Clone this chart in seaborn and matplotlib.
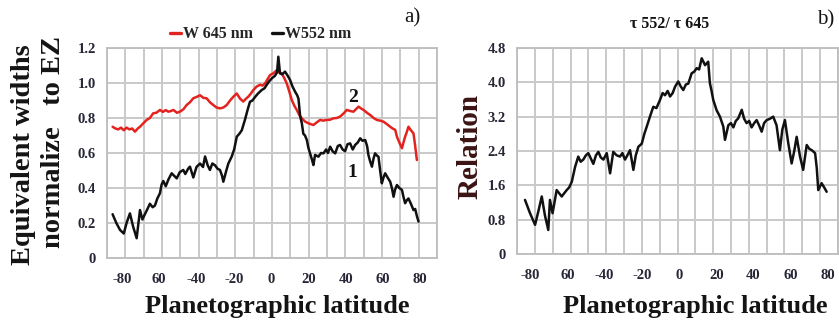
import numpy as np
import pandas as pd
import matplotlib
matplotlib.use("Agg")
import matplotlib.pyplot as plt
import seaborn as sns

# ---------------- data ----------------
lat_552 = [-85, -83, -81, -79, -77.5, -75.7, -74, -72.1, -70.3, -69, -67.7, -66.3, -65, -63.5, -62.3,
           -61, -59.6, -58.7, -57.8, -56.5, -55, -53.3, -52, -50.6, -49, -47.1, -46, -44.5, -43.5,
           -41.7, -40, -38.1, -36.5, -35.4, -34, -32.8, -31.5, -30.1, -28.7, -27.4, -26.3, -25.6,
           -24, -22.9, -21.1, -19.8, -18.4, -17, -15.7, -14, -12.5, -11.3, -10, -8.6, -7, -5, -3.5,
           -2.3, -1, 0.4, 2, 3.2, 3.9, 4.8, 6, 7.5, 9, 10.2, 11.5, 12.9, 14, 14.7, 15.6, 16.5, 17.3,
           18.2, 19.2, 20, 20.9, 22, 22.7, 23.6, 25.4, 26.8, 28.1, 29.5, 30.5, 31.7, 33, 34.4, 35.8,
           37, 38.4, 39.7, 41, 42.4, 43.8, 45.1, 46.5, 47.8, 49, 50.5, 51.5, 52.2, 53.2, 54.1, 55,
           55.8, 56.8, 57.6, 58.5, 59.4, 60.3, 61.2, 62.5, 63.9, 64.8, 65.7, 66.5, 67.5, 68.8, 70.2,
           71, 71.9, 72.8, 73.7, 75, 76.4, 77.3, 78.2, 79.1]
w_552 = [0.25, 0.20, 0.16, 0.14, 0.20, 0.255, 0.18, 0.113, 0.274, 0.22, 0.25, 0.28, 0.31, 0.29, 0.30,
         0.34, 0.37, 0.42, 0.44, 0.41, 0.45, 0.484, 0.47, 0.455, 0.49, 0.503, 0.48, 0.51, 0.522,
         0.46, 0.52, 0.54, 0.52, 0.58, 0.53, 0.503, 0.54, 0.53, 0.51, 0.503, 0.47, 0.436,
         0.50, 0.54, 0.58, 0.62, 0.693, 0.71, 0.73, 0.79, 0.85, 0.893, 0.90, 0.92, 0.94, 0.96, 0.97,
         0.99, 1.01, 1.027, 1.04, 1.06, 1.15, 1.055, 1.05, 1.065, 1.04, 1.017, 0.98, 0.95, 0.93, 0.91,
         0.81, 0.77, 0.71, 0.70, 0.674, 0.63, 0.598, 0.56, 0.531, 0.589, 0.579, 0.60, 0.598, 0.62,
         0.60, 0.636, 0.61, 0.598, 0.64, 0.646, 0.62, 0.61, 0.65, 0.655, 0.62, 0.646, 0.66, 0.684,
         0.67, 0.674, 0.64, 0.589, 0.55, 0.522, 0.57, 0.598, 0.585, 0.579, 0.50, 0.427, 0.46, 0.484,
         0.46, 0.436, 0.40, 0.35, 0.39, 0.417, 0.40, 0.389, 0.35, 0.313, 0.33, 0.34, 0.31, 0.274,
         0.28, 0.24, 0.208]

lat_645 = [-85, -83.5, -82, -80.5, -79, -77.5, -76, -74.5, -73, -71.5, -70.3, -68.5, -66.7, -65, -63.2,
           -61.5, -59.6, -58, -56.5, -55.1, -53.7, -52.4, -50.5, -48.9, -47, -45.3, -43.5, -41.7, -40,
           -38.1, -36.3, -34.6, -32.8, -31, -29.2, -27.4, -25.6, -23.8, -22, -20.2, -18.4, -16.6,
           -14.9, -13.5, -12.2, -10.8, -9.5, -7.7, -5.9, -4.5, -3.2, -2, -0.5, 1.2, 3.1, 4.4, 5.7, 7,
           8.4, 9.8, 11.1, 12.5, 13.8, 15, 16.5, 18.2, 20, 21.3, 22.7, 24.5, 26.3, 28, 29.8, 31.6,
           33.4, 35.2, 37, 38.8, 40.6, 42.4, 44.2, 45.5, 46.9, 48.2, 49.6, 51.4, 53.2, 55, 56.7, 58.5,
           60.3, 62.1, 63.9, 65.2, 66.6, 67.5, 68.8, 70.2, 71, 71.9, 72.8, 73.7, 75, 76.4, 77.3, 78.2]
w_645 = [0.75, 0.74, 0.735, 0.745, 0.73, 0.745, 0.735, 0.74, 0.722, 0.74, 0.75, 0.77, 0.789, 0.80, 0.827,
         0.83, 0.846, 0.835, 0.845, 0.836, 0.84, 0.846, 0.83, 0.836, 0.85, 0.874, 0.89, 0.913, 0.92,
         0.93, 0.915, 0.913, 0.89, 0.874, 0.86, 0.855, 0.86, 0.874, 0.90, 0.922, 0.94, 0.91,
         0.894, 0.91, 0.922, 0.94, 0.96, 0.98, 0.99, 0.985, 0.998, 1.02, 1.046, 1.055, 1.074, 1.06,
         1.055, 1.03, 0.998, 0.95, 0.903, 0.87, 0.846, 0.82, 0.798, 0.78, 0.77, 0.765, 0.76, 0.775,
         0.789, 0.785, 0.789, 0.79, 0.798, 0.80, 0.808, 0.825, 0.846, 0.84, 0.836, 0.85, 0.865,
         0.855, 0.846, 0.83, 0.817, 0.80, 0.789, 0.785, 0.779, 0.765, 0.75, 0.74, 0.732, 0.693,
         0.66, 0.627, 0.66, 0.693, 0.72, 0.75, 0.73, 0.712, 0.64, 0.56]

lat_ratio = [-82.7, -80, -77.3, -75.5, -73.7, -72, -70.2, -69.3, -67.9, -65.7, -63, -60.3, -59, -57.6,
             -55.8, -54.1, -52.8, -51.4, -50, -48.7, -46, -44.6, -43.3, -42, -40.6, -38.8, -37, -35.3,
             -33.5, -31.7, -30.4, -29, -27.7, -26.3, -24.5, -23.2, -21.8, -20, -18.6, -17.3, -15.6,
             -13.8, -12.1, -10.2, -8.8, -7.5, -6.1, -4.8, -3.4, -2.1, -0.4, 1, 2.3, 3.7, 5, 6.8,
             8.2, 9.5, 10.8, 12.2, 14, 15.7, 16.6, 17.5, 18.4, 20.2, 22, 23.8, 24.7, 26.5, 27.9, 29.2,
             30.5, 31.8, 33.7, 35, 36.3, 37.7, 39, 40.4, 41.7, 43, 44.4, 45.7, 47.1, 48.8, 50.6, 52.4,
             54.2, 55.5, 56.9, 58.7, 60.5, 61.9, 63.2, 65, 66.7, 68.6, 70, 71.3, 73.1, 74, 74.8,
             76.6, 78, 79.3]
ratio = [1.26, 0.95, 0.68, 1.0, 1.34, 0.9, 0.56, 1.26, 0.95, 1.49, 1.34, 1.49, 1.55, 1.68,
         2.03, 2.27, 2.15, 2.2, 2.3, 2.35, 2.1, 2.3, 2.38, 2.25, 2.2, 2.35, 1.88, 2.38,
         2.3, 2.27, 2.35, 2.2, 2.3, 2.42, 1.96, 2.3, 2.5, 2.57, 2.8, 2.97, 3.2,
         3.43, 3.4, 3.59, 3.75, 3.7, 3.8, 3.67, 3.75, 3.9, 4.02, 3.9, 3.82, 3.95, 3.97, 4.21,
         4.25, 4.33, 4.3, 4.56, 4.4, 4.48, 3.98, 3.8, 3.59, 3.35, 3.2, 2.97, 2.66, 3.0, 3.05, 2.95,
         3.1, 3.16, 3.36, 3.15, 3.05, 3.1, 2.95, 3.05, 3.12, 3.0, 2.85, 3.05, 3.12, 3.15, 3.2, 3.0,
         2.42, 2.9, 3.12, 2.58, 2.11, 2.4, 2.73, 2.27, 1.96, 2.54, 2.45, 2.42, 2.35, 2.0, 1.49,
         1.65, 1.55, 1.45]

x_ticks = [-80, -60, -40, -20, 0, 20, 40, 60, 80]
x_ticklabels = ["-80", "60", "-40", "-20", "0", "20", "40", "60", "80"]
y_ticks_a = [0, 0.2, 0.4, 0.6, 0.8, 1.0, 1.2]
y_ticklabels_a = ["0", "0.2", "0.4", "0.6", "0.8", "1.0", "1.2"]
y_ticks_b = [0, 0.8, 1.6, 2.4, 3.2, 4.0, 4.8]
y_ticklabels_b = ["0", "0.8", "1.6", "2.4", "3.2", "4.0", "4.8"]

# ---------------- style ----------------
sns.set_theme(style="white")
plt.rcParams["font.family"] = ["Liberation Serif", "DejaVu Serif"]
plt.rcParams["font.weight"] = "bold"

RED = "#e3231f"
BLACK = "#111111"
GRID = "#c9c9c9"
TICKC = "#262636"

W, H = 839, 324
fig = plt.figure(figsize=(W / 100, H / 100), dpi=100)

def px_rect(x0, y0, x1, y1):
    return [x0 / W, 1 - y1 / H, (x1 - x0) / W, (y1 - y0) / H]

ax1 = fig.add_axes(px_rect(107, 48, 437, 258))
ax2 = fig.add_axes(px_rect(517, 48, 838, 254))

df_a = pd.concat([
    pd.DataFrame({"lat": lat_645, "val": w_645, "series": "W 645 nm"}),
    pd.DataFrame({"lat": lat_552, "val": w_552, "series": "W552 nm"}),
])
sns.lineplot(data=df_a, x="lat", y="val", hue="series", sort=False, estimator=None,
             palette={"W 645 nm": RED, "W552 nm": BLACK}, lw=1.8, ax=ax1)

df_b = pd.DataFrame({"lat": lat_ratio, "val": ratio})
sns.lineplot(data=df_b, x="lat", y="val", sort=False, estimator=None, color=BLACK, lw=1.8, ax=ax2)

def style_axes(ax, xlim, yticks, ylabels):
    ax.set_xlim(*xlim)
    ax.set_ylim(yticks[0], yticks[-1])
    ax.set_xticks(x_ticks)
    ax.set_xticklabels(x_ticklabels)
    ax.set_yticks(yticks)
    ax.set_yticklabels(ylabels)
    ax.set_xticks(np.linspace(xlim[0], xlim[1], 19), minor=True)
    ax.grid(False)
    ax.grid(True, which="minor", axis="x", color=GRID, lw=1.4)
    ax.grid(True, which="major", axis="y", color=GRID, lw=1.4)
    ax.set_axisbelow(True)
    for s in ax.spines.values():
        s.set_color("#bdbdbd")
        s.set_linewidth(1.3)
    ax.tick_params(axis="both", which="both", length=0, labelsize=10.5, colors=TICKC)
    ax.tick_params(axis="x", pad=11)
    ax.tick_params(axis="y", pad=8)
    for t in ax.get_xticklabels() + ax.get_yticklabels():
        t.set_fontweight("bold")
    ax.set_xlabel("")
    ax.set_ylabel("")

style_axes(ax1, (-88, 89), y_ticks_a, y_ticklabels_a)
style_axes(ax2, (-87, 85.4), y_ticks_b, y_ticklabels_b)

leg = ax1.legend(loc="center", bbox_to_anchor=(0.465, 1.065), ncol=2, frameon=False,
                 handlelength=0.7, handletextpad=0.1, columnspacing=1.2,
                 prop={"size": 11.5, "weight": "bold"})
for h in leg.get_lines():
    h.set_linewidth(2.4)

ax1.text(44, 0.92, "2", fontsize=14, fontweight="bold", ha="center", va="center", color=BLACK)
ax1.text(43.5, 0.486, "1", fontsize=14, fontweight="bold", ha="center", va="center", color=BLACK)

# labels
lab = dict(fontweight="bold", color="#141414")
fig.text(277 / W, 1 - 306 / H, "Planetographic latitude", fontsize=19, ha="center", va="center", **lab)
fig.text(695 / W, 1 - 306 / H, "Planetographic latitude", fontsize=19, ha="center", va="center", **lab)
fig.text(24 / W, 1 - 155 / H, "Equivalent widths", fontsize=20.5, rotation=90, ha="center", va="center", **lab)
fig.text(53 / W, 1 - 142 / H, "normalize   to EZ", fontsize=20.5, rotation=90, ha="center", va="center", **lab)
fig.text(470 / W, 1 - 146 / H, "Relation", fontsize=21, rotation=90, ha="center", va="center",
         fontweight="bold", color="#3c1414")
fig.text(670 / W, 1 - 24 / H, "τ 552/ τ 645", fontsize=11.5, ha="center", va="center", fontweight="bold", color="#141414")
fig.text(412 / W, 1 - 18 / H, "a)", fontsize=15, ha="center", va="center", fontweight="normal", color="#141414")
fig.text(826 / W, 1 - 20 / H, "b)", fontsize=15, ha="center", va="center", fontweight="normal", color="#141414")

fig.savefig("out.png", dpi=100)
